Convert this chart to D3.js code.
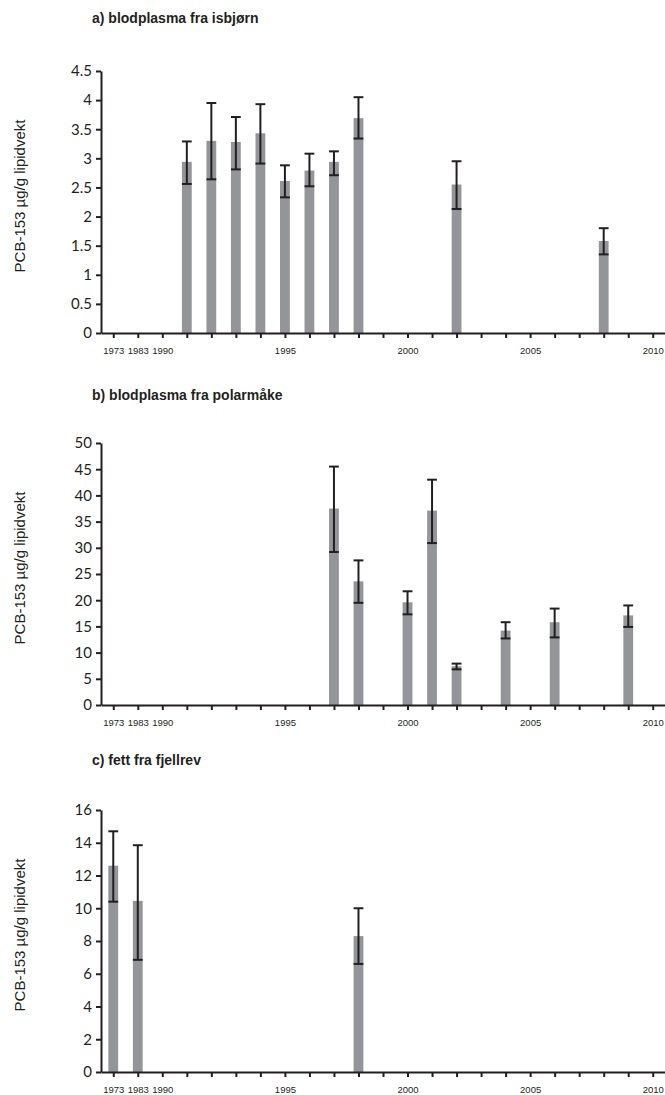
<!DOCTYPE html>
<html>
<head>
<meta charset="utf-8">
<script src="https://cdn.jsdelivr.net/npm/d3@7"></script>
<style>
  body { margin: 0; background: #fff; }
  svg { display: block; }
  .title { font-family: "Liberation Sans", Arial, sans-serif; font-weight: bold; font-size: 14px; fill: #231f20; }
  .ytitle { font-family: "Liberation Sans", Arial, sans-serif; font-size: 15px; fill: #231f20; }
  .yaxis text { font-family: Lato, "Open Sans", sans-serif; font-size: 15px; fill: #231f20; }
  .xaxis text { font-family: "Liberation Sans", Arial, sans-serif; font-size: 9.5px; fill: #231f20; }
  .domain, .tick line { stroke: #231f20; stroke-width: 2px; }
</style>
</head>
<body>
<div id="chart"></div>
<script>
// category slots along the x axis (only some of them are labelled)
var years = ['1973','1983','1990','1991','1992','1993','1994','1995','1996','1997','1998','1999',
             '2000','2001','2002','2003','2004','2005','2006','2007','2008','2009','2010']
var yearLabels = ['1973','1983','1990','1995','2000','2005','2010']

// a) blodplasma fra isbjørn
var yearsA = ['1991','1992','1993','1994','1995','1996','1997','1998','2002','2008']
var meanA = [2.94, 3.30, 3.28, 3.43, 2.61, 2.79, 2.94, 3.69, 2.55, 1.58]
var hiA   = [3.29, 3.95, 3.71, 3.93, 2.88, 3.08, 3.12, 4.05, 2.95, 1.80]
var loA   = [2.56, 2.64, 2.81, 2.91, 2.33, 2.52, 2.71, 3.34, 2.13, 1.35]
var ticksA = [0, 0.5, 1, 1.5, 2, 2.5, 3, 3.5, 4, 4.5]

// b) blodplasma fra polarmåke
var yearsB = ['1997','1998','2000','2001','2002','2004','2006','2009']
var meanB = [37.5, 23.6, 19.6, 37.1, 7.4, 14.2, 15.8, 17.1]
var hiB   = [45.5, 27.6, 21.7, 43.0, 7.9, 15.8, 18.4, 19.0]
var loB   = [29.2, 19.5, 17.3, 30.9, 6.8, 12.7, 12.9, 14.9]
var ticksB = [0, 5, 10, 15, 20, 25, 30, 35, 40, 45, 50]

// c) fett fra fjellrev
var yearsC = ['1973','1983','1998']
var meanC = [12.6, 10.45, 8.3]
var hiC   = [14.7, 13.85, 10.0]
var loC   = [10.4, 6.85, 6.6]
var ticksC = [0, 2, 4, 6, 8, 10, 12, 14, 16]

var panels = [
  {title: 'a) blodplasma fra isbjørn', years: yearsA, mean: meanA, hi: hiA, lo: loA, ticks: ticksA, top: 71, titleY: 23},
  {title: 'b) blodplasma fra polarmåke', years: yearsB, mean: meanB, hi: hiB, lo: loB, ticks: ticksB, top: 443, titleY: 400},
  {title: 'c) fett fra fjellrev', years: yearsC, mean: meanC, hi: hiC, lo: loC, ticks: ticksC, top: 810, titleY: 765}
]

var fullWidth = 665
var fullHeight = 1095
var left = 101
var right = 665
var plotHeight = 262

var svg = d3.select('#chart').append('svg')
  .attr('width', fullWidth)
  .attr('height', fullHeight)

var x = d3.scalePoint().domain(years).range([left, right]).padding(0.5)
var barWidth = x.step() * 0.4
var capWidth = x.step() * 0.4

panels.forEach(function(p) {
  var y = d3.scaleLinear()
    .domain([0, d3.max(p.ticks)])
    .range([p.top + plotHeight, p.top])

  var g = svg.append('g')

  g.append('text')
    .attr('class', 'title')
    .attr('x', 92)
    .attr('y', p.titleY)
    .text(p.title)

  g.append('text')
    .attr('class', 'ytitle')
    .attr('transform', 'translate(25,' + (p.top + plotHeight / 2 - 6) + ') rotate(-90)')
    .attr('text-anchor', 'middle')
    .text('PCB-153 µg/g lipidvekt')

  var rows = p.years.map(function(yr, i) {
    return {year: yr, mean: p.mean[i], hi: p.hi[i], lo: p.lo[i]}
  })

  g.selectAll('.bar')
    .data(rows)
    .enter().append('rect')
      .attr('class', 'bar')
      .attr('x', function(d) { return x(d.year) - barWidth / 2 })
      .attr('y', function(d) { return y(d.mean) })
      .attr('width', barWidth)
      .attr('height', function(d) { return y(0) - y(d.mean) })
      .attr('fill', '#939598')

  var err = g.selectAll('.err')
    .data(rows)
    .enter().append('g')
      .attr('class', 'err')
      .attr('stroke', '#231f20')
      .attr('stroke-width', 2)

  err.append('line')
    .attr('x1', function(d) { return x(d.year) })
    .attr('x2', function(d) { return x(d.year) })
    .attr('y1', function(d) { return y(d.hi) })
    .attr('y2', function(d) { return y(d.lo) })
  err.append('line')
    .attr('x1', function(d) { return x(d.year) - capWidth / 2 })
    .attr('x2', function(d) { return x(d.year) + capWidth / 2 })
    .attr('y1', function(d) { return y(d.hi) })
    .attr('y2', function(d) { return y(d.hi) })
  err.append('line')
    .attr('x1', function(d) { return x(d.year) - capWidth / 2 })
    .attr('x2', function(d) { return x(d.year) + capWidth / 2 })
    .attr('y1', function(d) { return y(d.lo) })
    .attr('y2', function(d) { return y(d.lo) })

  g.append('g')
    .attr('class', 'yaxis')
    .attr('transform', 'translate(' + left + ',0)')
    .call(d3.axisLeft(y).tickValues(p.ticks).tickSize(5).tickSizeOuter(0).tickPadding(4)
      .tickFormat(function(d) { return String(d) }))

  g.append('g')
    .attr('class', 'xaxis')
    .attr('transform', 'translate(0,' + y(0) + ')')
    .call(d3.axisBottom(x).tickSize(5).tickSizeOuter(0).tickPadding(9)
      .tickFormat(function(d) { return yearLabels.indexOf(d) >= 0 ? d : '' }))
})
</script>
</body>
</html>
